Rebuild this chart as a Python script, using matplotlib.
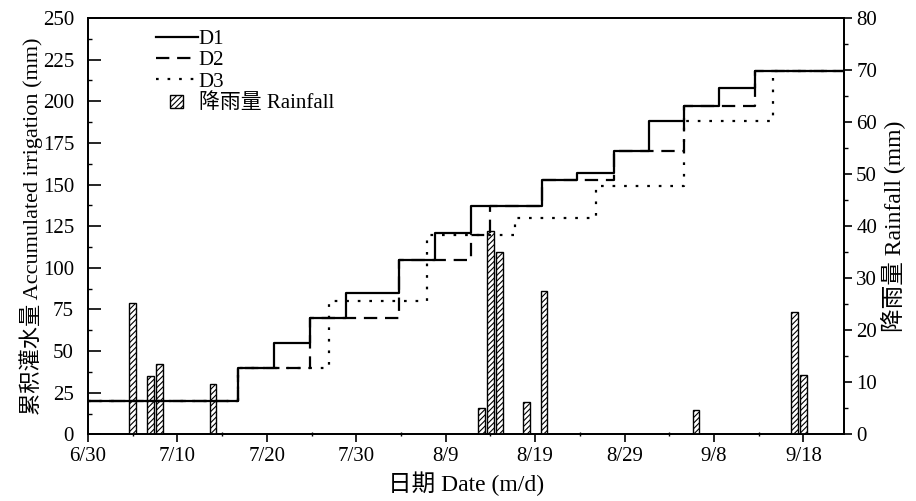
import numpy as np
import matplotlib.pyplot as plt
from matplotlib.ticker import MultipleLocator, FixedLocator
from matplotlib.legend_handler import HandlerPatch
from matplotlib.patches import Rectangle

plt.rcParams['font.family'] = ['Liberation Serif', 'Noto Sans CJK SC']
plt.rcParams['hatch.linewidth'] = 0.8

# jours depuis le 30/6
x_fin = 84.5

d1_jours = [0, 16.8, 20.8, 24.8, 28.8, 34.8, 38.8, 42.8, 50.8, 54.7, 58.8, 62.7, 66.7, 70.6, 74.6]
d1_vals = [20, 40, 55, 70, 85, 105, 121, 137, 153, 157, 170, 188, 197, 208, 218]

d2_jours = [0, 16.8, 24.8, 34.8, 42.8, 45.0, 50.8, 58.8, 66.7, 74.6]
d2_vals = [20, 40, 70, 105, 120, 137, 153, 170, 197, 218]

d3_jours = [0, 16.8, 26.9, 37.9, 47.8, 56.8, 66.7, 76.6]
d3_vals = [20, 40, 80, 120, 130, 149, 188, 218]

pluie_jours = [5, 7, 8, 14, 44, 45, 46, 49, 51, 68, 79, 80]
pluie_mm = [25.3, 11.2, 13.6, 9.7, 5.1, 39.1, 35.0, 6.2, 27.6, 4.7, 23.6, 11.4]

tick_jours = [0, 10, 20, 30, 40, 50, 60, 70, 80]
tick_labels = ['6/30', '7/10', '7/20', '7/30', '8/9', '8/19', '8/29', '9/8', '9/18']


def escalier(jours, vals):
    return list(jours) + [x_fin], list(vals) + [vals[-1]]


def petit_carre(legend, orig_handle, xdescent, ydescent, width, height, fontsize):
    # carré hachuré centré sous les traits
    c = height * 0.9
    return Rectangle((width / 2 - c / 2 - xdescent, -ydescent), c, c)


fig = plt.figure(figsize=(9.16, 5.01), dpi=100)
ax = fig.add_axes([0.096, 0.133, 0.825, 0.831])
ax2 = ax.twinx()

# pluie (axe droit)
barres = ax2.bar(pluie_jours, pluie_mm, width=0.75, color='white', edgecolor='black',
                 linewidth=1.0, hatch='//////', zorder=2)
h_pluie = barres.patches[0]

# irrigation cumulée, tracée sur l'axe droit pour passer au-dessus des barres
k = 80 / 250
x1, y1 = escalier(d1_jours, d1_vals)
x2, y2 = escalier(d2_jours, d2_vals)
x3, y3 = escalier(d3_jours, d3_vals)
l1, = ax2.step(x1, np.array(y1) * k, where='post', color='black', lw=1.6, zorder=3)
l2, = ax2.step(x2, np.array(y2) * k, where='post', color='black', lw=1.6,
               dashes=(6, 3.5), zorder=3)
l3, = ax2.step(x3, np.array(y3) * k, where='post', color='black', lw=1.6,
               dashes=(1.2, 4), zorder=3)

ax.set_xlim(0, x_fin)
ax.set_ylim(0, 250)
ax2.set_ylim(0, 80)

ax.xaxis.set_major_locator(FixedLocator(tick_jours))
ax.set_xticklabels(tick_labels)
ax.xaxis.set_minor_locator(MultipleLocator(5))
ax.yaxis.set_major_locator(MultipleLocator(25))
ax.yaxis.set_minor_locator(MultipleLocator(12.5))
ax2.yaxis.set_major_locator(MultipleLocator(10))
ax2.yaxis.set_minor_locator(MultipleLocator(5))

ax.tick_params(axis='y', which='major', direction='in', length=9, width=1.2, labelsize=15, pad=10)
ax.tick_params(axis='y', which='minor', direction='in', length=3, width=1.0)
ax.tick_params(axis='x', which='major', direction='out', length=6, width=1.2, labelsize=15, pad=3)
ax.tick_params(axis='x', which='minor', direction='inout', length=3, width=1.0)
ax2.tick_params(axis='y', which='major', direction='out', length=6, width=1.2, labelsize=15, pad=3)
ax2.tick_params(axis='y', which='minor', direction='out', length=3, width=1.0)

for a in (ax, ax2):
    for s in a.spines.values():
        s.set_linewidth(1.3)

ax.set_xlabel('日期 Date (m/d)', fontsize=17, labelpad=4)
ax.set_ylabel('累积灌水量 Accumulated irrigation (mm)', fontsize=16, labelpad=0)
ax2.set_ylabel('降雨量 Rainfall (mm)', fontsize=17, labelpad=3)

ax2.legend([l1, l2, l3, h_pluie], ['D1', 'D2', 'D3', '降雨量 Rainfall'], loc='upper left',
           bbox_to_anchor=(0.075, 1.0), frameon=False, fontsize=15,
           handlelength=2.0, handletextpad=0.05, labelspacing=0.08, borderaxespad=0.15,
           handler_map={h_pluie: HandlerPatch(patch_func=petit_carre)})

fig.savefig('out.png', dpi=100)
